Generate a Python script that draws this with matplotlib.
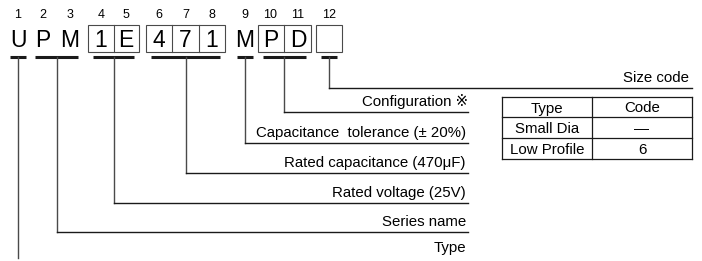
import matplotlib
matplotlib.use("Agg")
from matplotlib import pyplot as plt
from matplotlib.patches import Rectangle

plt.rcParams['font.family'] = ['Liberation Sans', 'DejaVu Sans']

# ---- data ----
positions = ["1", "2", "3", "4", "5", "6", "7", "8", "9", "10", "11", "12"]
chars = ["U", "P", "M", "1", "E", "4", "7", "1", "M", "P", "D", ""]
boxed_groups = [[3, 4], [5, 6, 7], [9, 10], [11]]
# code groups (char indices) with their description, top row first
code_groups = [[11], [9, 10], [8], [5, 6, 7], [3, 4], [1, 2], [0]]
descriptions = ["Size code", "Configuration \u203b", "Capacitance  tolerance (\u00b1 20%)",
                "Rated capacitance (470\u03bcF)", "Rated voltage (25V)", "Series name", "Type"]
table_header = ["Type", "Code"]
table_types = ["Small Dia", "Low Profile"]
table_codes = ["\u2014", "6"]

# ---- layout (pixel space) ----
char_x = [18, 43, 70, 101, 126, 159, 185.5, 212, 245, 270.5, 298, 329]
cell_half = 13
row_y = [88, 112, 143, 173, 203, 232, 258]
label_right = [689, 468, 466, 466, 466, 466, 466]
under_y = 57
tbl_cols = [502, 592, 692]
tbl_rows = [97, 117, 138, 159]
fs = 10.8

fig = plt.figure(figsize=(7.02, 2.61), dpi=100)
ax = fig.add_axes([0, 0, 1, 1])
ax.set_xlim(0, 702)
ax.set_ylim(261, 0)
ax.axis("off")

line_col = "#1a1a1a"
vert_col = "#4a4a4a"

# position numbers and code characters
for x, p, c in zip(char_x, positions, chars):
    ax.text(x, 18, p, ha="center", va="baseline", fontsize=9)
    if c:
        ax.text(x, 47, c, ha="center", va="baseline", fontsize=16.5)

# boxes round groups of characters
for g in boxed_groups:
    x0 = char_x[g[0]] - cell_half
    x1 = char_x[g[-1]] + cell_half
    ax.add_patch(Rectangle((x0, 25), x1 - x0, 27, fill=False, ec=vert_col, lw=0.8))
    for a, b in zip(g[:-1], g[1:]):
        xm = (char_x[a] + char_x[b]) / 2
        ax.plot([xm, xm], [25, 52], color=vert_col, lw=0.8)

# underlines, leader lines and descriptions
for g, desc, y, xr in zip(code_groups, descriptions, row_y, label_right):
    xa = char_x[g[0]] - 8
    xb = char_x[g[-1]] + 8
    ax.plot([xa, xb], [under_y, under_y], color=line_col, lw=2.2, solid_capstyle="butt")
    xv = (char_x[g[0]] + char_x[g[-1]]) / 2
    ax.plot([xv, xv], [under_y, y], color=vert_col, lw=1.0)
    if desc != "Type":
        ax.plot([xv, 468 if xr < 600 else 692], [y, y], color=line_col, lw=1.0)
        ax.text(xr, y - 6, desc, ha="right", va="baseline", fontsize=fs)
    else:
        ax.text(xr, 252, desc, ha="right", va="baseline", fontsize=fs)

# size code table
for yy in tbl_rows:
    ax.plot([tbl_cols[0], tbl_cols[-1]], [yy, yy], color=line_col, lw=0.9)
for xx in tbl_cols:
    ax.plot([xx, xx], [tbl_rows[0], tbl_rows[-1]], color=line_col, lw=0.9)
cells = [table_header] + [[t, c] for t, c in zip(table_types, table_codes)]
for r, row in enumerate(cells):
    yc = (tbl_rows[r] + tbl_rows[r + 1]) / 2
    ax.text((tbl_cols[0] + tbl_cols[1]) / 2, yc, row[0], ha="center", va="center_baseline", fontsize=fs)
    ax.text((tbl_cols[1] + tbl_cols[2]) / 2, yc, row[1], ha="center", va="center_baseline", fontsize=fs)

fig.savefig("out.png", dpi=100)
